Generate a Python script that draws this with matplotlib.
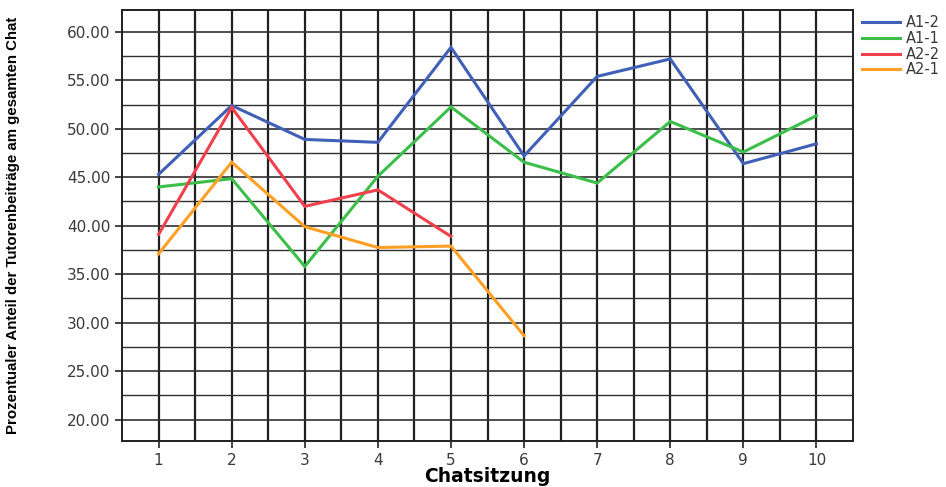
import matplotlib
matplotlib.use("Agg")
import matplotlib.pyplot as plt
import numpy as np

sessions = [1, 2, 3, 4, 5, 6, 7, 8, 9, 10]

a1_2 = [45.3, 52.4, 48.9, 48.6, 58.4, 47.2, 55.4, 57.2, 46.4, 48.45]
a1_1 = [44.0, 44.85, 35.8, 45.1, 52.25, 46.55, 44.4, 50.75, 47.6, 51.35]
a2_2 = [39.1, 52.2, 42.0, 43.7, 38.9]
a2_1 = [37.1, 46.55, 39.9, 37.75, 37.9, 28.65]

series = [
    ("A1-2", a1_2, "#4060b8"),
    ("A1-1", a1_1, "#3cbf4a"),
    ("A2-2", a2_2, "#f0404c"),
    ("A2-1", a2_1, "#ffa024"),
]

fig = plt.figure(figsize=(9.46, 4.87), dpi=100)
ax = fig.add_axes([0.129, 0.0945, 0.7727, 0.885])

# grid: lines at every category and halfway between, every 2.5 on y
for xv in np.arange(1.0, 10.5, 0.5):
    ax.axvline(xv, color="#202020", lw=1.6, zorder=1)
for yv in np.arange(20.0, 62.5, 2.5):
    ax.axhline(yv, color="#303030", lw=1.2 if yv % 5 == 0 else 1.0, zorder=1)

for name, vals, col in series:
    ax.plot(sessions[:len(vals)], vals, color=col, lw=2.2, label=name,
            solid_joinstyle="miter", zorder=3)

ax.set_xlim(0.5, 10.5)
ax.set_ylim(17.8, 62.25)
ax.set_xticks(sessions)
ax.set_yticks(np.arange(20, 61, 5))
ax.set_yticklabels(["%.2f" % v for v in np.arange(20, 61, 5)])
ax.tick_params(axis="both", colors="#222222", labelcolor="#3a3a3a",
               labelsize=11, length=5, width=1.2)
for s in ax.spines.values():
    s.set_color("#202020")
    s.set_linewidth(1.4)

ax.set_xlabel("Chatsitzung", fontsize=13.5, fontweight="bold", va="center",
              family="DejaVu Sans")
ax.xaxis.set_label_coords(0.5, -0.083)
ax.set_ylabel("Prozentualer Anteil der Tutorenbeiträge am gesamten Chat",
              fontsize=10.8, fontweight="bold", family="Liberation Sans")
ax.yaxis.set_label_coords(-0.14, 0.5)

leg = ax.legend(loc="upper left", bbox_to_anchor=(1.0, 1.008), frameon=False,
                fontsize=10.5, handlelength=2.6, handletextpad=0.4,
                labelspacing=0.05, borderaxespad=0.2)
for t in leg.get_texts():
    t.set_color("#3a3a3a")

fig.savefig("out.png", dpi=100)
